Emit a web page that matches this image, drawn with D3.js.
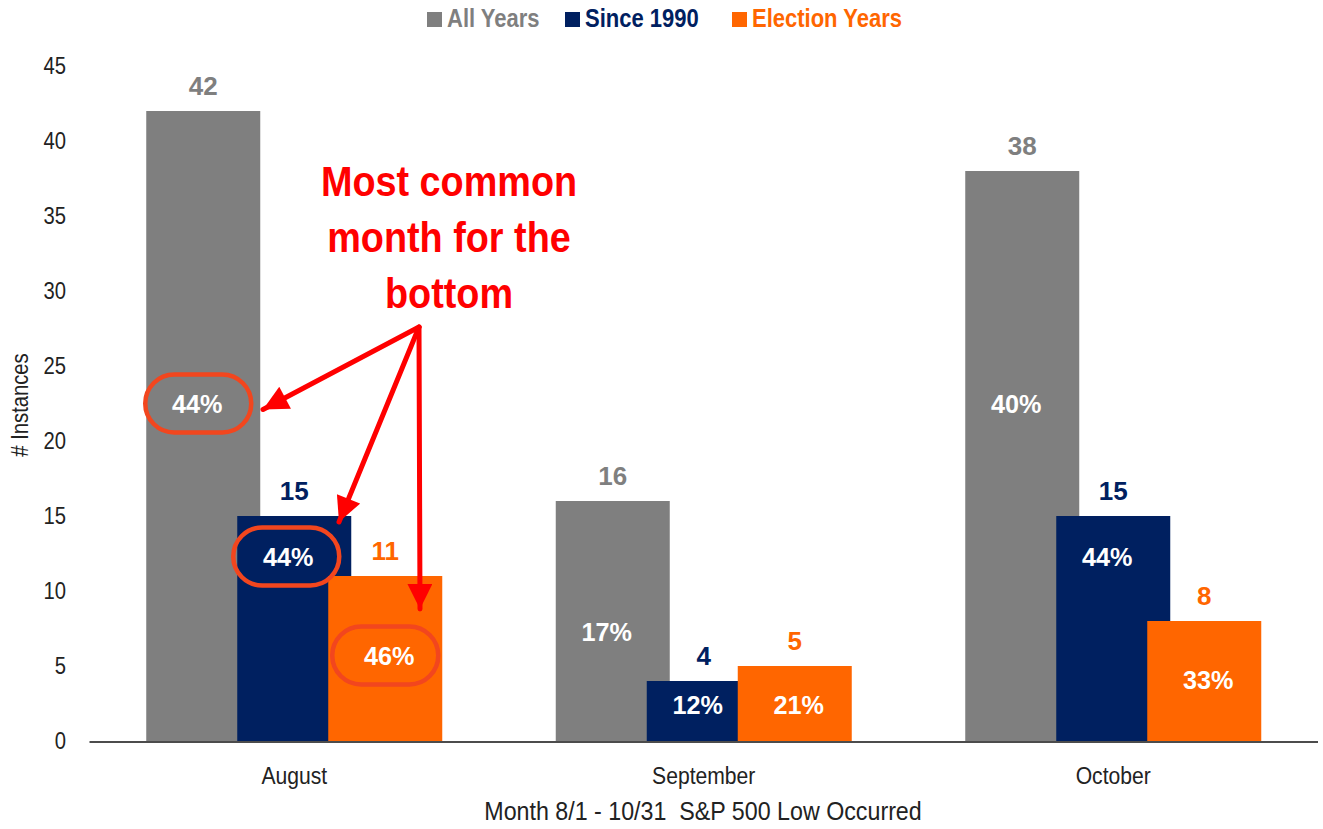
<!DOCTYPE html>
<html>
<head>
<meta charset="utf-8">
<script src="https://cdn.jsdelivr.net/npm/d3@7"></script>
<style>
  body { margin: 0; background: #fff; }
  text { font-family: "Liberation Sans", Arial, sans-serif; }
</style>
</head>
<body>
<svg id="chart" width="1323" height="829"></svg>
<script>
// data
const months = ["August", "September", "October"];
const seriesNames = ["All Years", "Since 1990", "Election Years"];
const allYears = [42, 16, 38];
const since1990 = [15, 4, 15];
const electionYears = [11, 5, 8];
const pctAll = ["44%", "17%", "40%"];
const pct1990 = ["44%", "12%", "44%"];
const pctElection = ["46%", "21%", "33%"];
const yTicks = [0, 5, 10, 15, 20, 25, 30, 35, 40, 45];

// where the % label sits inside each bar (in y units)
const pctAtAll = [22.5, 7.3, 22.5];
const pctAt1990 = [12.3, 2.4, 12.3];
const pctAtElection = [5.7, 2.4, 4.1];

const colors = ["#7f7f7f", "#002060", "#ff6600"];
const values = [allYears, since1990, electionYears];
const pcts = [pctAll, pct1990, pctElection];
const pctAt = [pctAtAll, pctAt1990, pctAtElection];
const pctShift = [-6, -6, 4]; // labels sit a little off the bar centre

const svg = d3.select("#chart");
const SX = 0.88; // the source font is a bit condensed

const x = d3.scaleBand().domain(months).range([89.5, 1318]);
const off = d3.scalePoint().domain(seriesNames).range([-91, 91]);
const y = d3.scaleLinear().domain([0, 45]).range([741, 66]);
const barW = 114;
const cx = (m, s) => x(m) + x.bandwidth() / 2 + off(s);

function txt(g, px, py, s, sx) {
  return g.append("text")
    .attr("transform", `translate(${px},${py}) scale(${sx || SX},1)`)
    .text(s);
}

// y tick labels (no axis line)
const yAxis = svg.append("g");
yTicks.forEach(t => {
  txt(yAxis, 66, y(t) + 8, t)
    .attr("text-anchor", "end")
    .attr("font-size", 23)
    .attr("fill", "#222");
});

// bars, drawn in series order so later ones overlap earlier ones
seriesNames.forEach((s, si) => {
  const g = svg.append("g");
  g.selectAll("rect")
    .data(months)
    .enter()
    .append("rect")
    .attr("x", m => cx(m, s) - barW / 2)
    .attr("y", (m, i) => y(values[si][i]))
    .attr("width", barW)
    .attr("height", (m, i) => y(0) - y(values[si][i]))
    .attr("fill", colors[si]);
});

// value labels and % labels
seriesNames.forEach((s, si) => {
  const g = svg.append("g").attr("font-weight", "bold");
  months.forEach((m, i) => {
    txt(g, cx(m, s), y(values[si][i]) - 16, values[si][i], 1)
      .attr("text-anchor", "middle")
      .attr("font-size", 26)
      .attr("fill", colors[si]);
    txt(g, cx(m, s) + pctShift[si], y(pctAt[si][i]) + 9, pcts[si][i], 0.97)
      .attr("text-anchor", "middle")
      .attr("font-size", 26)
      .attr("fill", "#fff");
  });
});

// x axis line + category labels
svg.append("line")
  .attr("x1", x.range()[0]).attr("x2", x.range()[1])
  .attr("y1", y(0) + 1).attr("y2", y(0) + 1)
  .attr("stroke", "#111").attr("stroke-width", 1.5);

months.forEach(m => {
  txt(svg, x(m) + x.bandwidth() / 2, 784, m)
    .attr("text-anchor", "middle")
    .attr("font-size", 24)
    .attr("fill", "#222");
});

txt(svg, 703, 820, "Month 8/1 - 10/31  S&P 500 Low Occurred", 0.93)
  .attr("text-anchor", "middle")
  .attr("font-size", 25)
  .attr("fill", "#222")
  .style("white-space", "pre");

svg.append("text")
  .attr("transform", `translate(28,405) rotate(-90) scale(${SX},1)`)
  .attr("text-anchor", "middle")
  .attr("font-size", 23)
  .attr("fill", "#222")
  .text("# Instances");

// legend
const legX = [427, 565, 732];
const leg = svg.append("g").attr("font-weight", "bold");
seriesNames.forEach((s, si) => {
  leg.append("rect")
    .attr("x", legX[si]).attr("y", 12)
    .attr("width", 15).attr("height", 15)
    .attr("fill", colors[si]);
  txt(leg, legX[si] + 20, 27, s)
    .attr("font-size", 25)
    .attr("fill", colors[si]);
});

// annotation
const red = "#ff0000";
const ring = "#f2461e";
const note = svg.append("g");
["Most common", "month for the", "bottom"].forEach((line, i) => {
  txt(note, 449, 196 + i * 56, line, 0.9)
    .attr("text-anchor", "middle")
    .attr("font-size", 42)
    .attr("font-weight", "bold")
    .attr("fill", red);
});

// rings round the August % labels
const ringBoxes = seriesNames.map((s, si) => ({
  cx: cx("August", s) + [-5, -8, 0][si],
  cy: y(pctAt[si][0])
}));
note.selectAll("rect.ring")
  .data(ringBoxes)
  .enter()
  .append("rect")
  .attr("class", "ring")
  .attr("x", d => d.cx - 53)
  .attr("y", d => d.cy - 29)
  .attr("width", 106)
  .attr("height", 58)
  .attr("rx", 29)
  .attr("fill", "none")
  .attr("stroke", ring)
  .attr("stroke-width", 4.5);

svg.append("defs").append("marker")
  .attr("id", "head")
  .attr("viewBox", "0 0 10 10")
  .attr("refX", 10).attr("refY", 5)
  .attr("markerWidth", 5.4).attr("markerHeight", 5)
  .attr("markerUnits", "strokeWidth")
  .attr("orient", "auto")
  .append("path")
  .attr("d", "M0,0 L10,5 L0,10 Z")
  .attr("fill", red);

const origin = [419, y(27.6)];
const tips = [
  [263, y(22.1)],
  [339, y(14.6)],
  [420, y(8.8)]
];
tips.forEach(t => {
  note.append("line")
    .attr("x1", origin[0]).attr("y1", origin[1])
    .attr("x2", t[0]).attr("y2", t[1])
    .attr("stroke", red)
    .attr("stroke-width", 5)
    .attr("stroke-linecap", "round")
    .attr("marker-end", "url(#head)");
});
</script>
</body>
</html>
